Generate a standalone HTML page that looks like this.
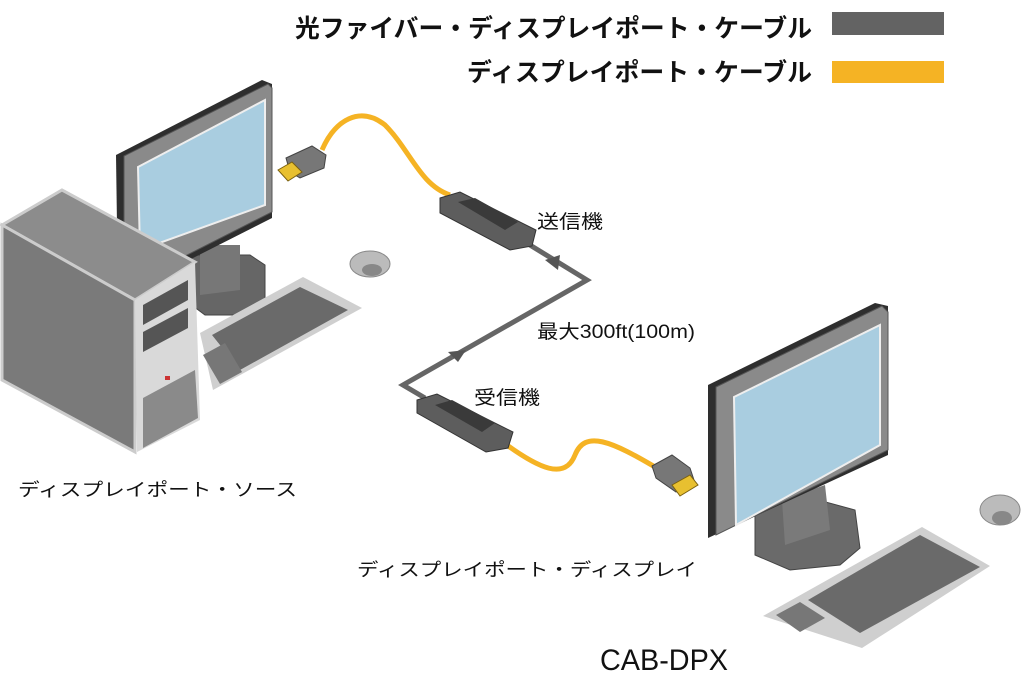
<!DOCTYPE html>
<html><head><meta charset="utf-8"><style>
body{margin:0;background:#fff;width:1024px;height:683px;overflow:hidden}
svg{display:block}
text{font-family:"Liberation Sans","Noto Sans CJK JP",sans-serif}
</style></head><body>
<svg width="1024" height="683" viewBox="0 0 1024 683">
<!-- legend -->
<text x="295" y="37" font-size="25" font-weight="bold" fill="#111" textLength="517" lengthAdjust="spacingAndGlyphs">光ファイバー・ディスプレイポート・ケーブル</text>
<rect x="832" y="12" width="112" height="23" fill="#636363"/>
<text x="467" y="81" font-size="25" font-weight="bold" fill="#111" textLength="345" lengthAdjust="spacingAndGlyphs">ディスプレイポート・ケーブル</text>
<rect x="832" y="61" width="112" height="22" fill="#f5b324"/>

<!-- left monitor -->
<polygon points="185,255 250,255 265,265 265,300 250,315 205,315 185,300" fill="#666" stroke="#444"/>
<polygon points="200,245 240,245 240,290 200,295" fill="#777"/>
<polygon points="116,155 262,80 272,84 272,218 118,296" fill="#2e2e2e"/>
<polygon points="124,156 268,84 272,88 272,212 124,287" fill="#8a8a8a" stroke="#555"/>
<polygon points="138,167 265,100 265,205 140,250" fill="#a9cde0" stroke="#eee" stroke-width="2"/>
<!-- tower -->
<polygon points="2,225 62,190 195,262 135,300" fill="#8c8c8c" stroke="#ccc" stroke-width="3"/>
<polygon points="2,225 135,300 135,452 2,380" fill="#7a7a7a" stroke="#ccc" stroke-width="3"/>
<polygon points="135,300 195,262 200,420 137,452" fill="#d9d9d9"/>
<polygon points="143,305 188,280 188,300 143,325" fill="#555"/>
<polygon points="143,332 188,308 188,328 143,352" fill="#555"/>
<polygon points="143,398 195,370 198,418 143,448" fill="#8a8a8a"/>
<rect x="165" y="376" width="5" height="4" fill="#c33"/>
<!-- left keyboard -->
<polygon points="200,333 303,277 362,308 213,390" fill="#cfcfcf"/>
<polygon points="212,335 300,287 348,310 240,370" fill="#6a6a6a"/>
<polygon points="203,355 225,343 242,372 220,384" fill="#777"/>
<ellipse cx="370" cy="264" rx="20" ry="13" fill="#bbb" stroke="#888"/>
<ellipse cx="372" cy="270" rx="10" ry="6" fill="#888"/>

<!-- right monitor -->
<polygon points="755,512 800,495 855,510 860,548 840,565 790,570 755,555" fill="#6a6a6a" stroke="#444"/>
<polygon points="782,500 825,485 830,530 785,545" fill="#7a7a7a"/>
<polygon points="708,385 875,303 888,306 888,455 708,538" fill="#2e2e2e"/>
<polygon points="716,387 882,306 888,312 888,450 716,535" fill="#8a8a8a" stroke="#555"/>
<polygon points="734,397 880,325 880,445 736,525" fill="#a9cde0" stroke="#eee" stroke-width="2"/>
<polygon points="763,616 922,527 990,566 862,648" fill="#cfcfcf"/>
<polygon points="808,600 920,535 980,567 860,633" fill="#6a6a6a"/>
<polygon points="776,615 800,602 825,618 800,632" fill="#777"/>
<ellipse cx="1000" cy="510" rx="20" ry="15" fill="#bbb" stroke="#888"/>
<ellipse cx="1002" cy="518" rx="10" ry="7" fill="#888"/>

<!-- cables -->
<path d="M322,150 C335,120 360,105 385,125 C410,150 420,185 450,195" fill="none" stroke="#f5b324" stroke-width="5"/>
<polygon points="286,158 312,146 326,155 324,168 300,178 290,172" fill="#777" stroke="#444"/>
<polygon points="278,170 292,162 302,172 288,181" fill="#e8c030" stroke="#7a6010"/>
<path d="M500,440 C540,470 565,480 575,455 C585,430 610,440 660,470" fill="none" stroke="#f5b324" stroke-width="5"/>
<polygon points="652,466 672,455 690,468 694,480 676,492 656,478" fill="#777" stroke="#444"/>
<polygon points="672,485 690,475 698,485 680,496" fill="#e8c030" stroke="#7a6010"/>

<polyline points="525,242 587,280 403,385 425,398" fill="none" stroke="#666" stroke-width="5"/>
<polygon points="545,260 560,255 558,270" fill="#555"/>
<polygon points="448,352 466,350 458,362" fill="#555"/>

<polygon points="440,198 460,192 536,230 532,246 510,250 440,213" fill="#5d5d5d" stroke="#333"/>
<polygon points="458,202 475,198 518,222 505,230" fill="#3a3a3a"/>
<polygon points="417,400 437,394 513,432 508,448 486,452 417,413" fill="#5d5d5d" stroke="#333"/>
<polygon points="435,405 452,400 495,423 482,432" fill="#3a3a3a"/>

<text x="537" y="228" font-size="19" fill="#111" textLength="66" lengthAdjust="spacingAndGlyphs">送信機</text>
<text x="537" y="338" font-size="19" fill="#111" textLength="158" lengthAdjust="spacingAndGlyphs">最大300ft(100m)</text>
<text x="474" y="404" font-size="19" fill="#111" textLength="66" lengthAdjust="spacingAndGlyphs">受信機</text>
<text x="18" y="496" font-size="18" fill="#111" textLength="279" lengthAdjust="spacingAndGlyphs">ディスプレイポート・ソース</text>
<text x="357" y="576" font-size="18" fill="#111" textLength="340" lengthAdjust="spacingAndGlyphs">ディスプレイポート・ディスプレイ</text>
<text x="600" y="670" font-size="30" fill="#111" textLength="128" lengthAdjust="spacingAndGlyphs">CAB-DPX</text>
</svg>
</body></html>
